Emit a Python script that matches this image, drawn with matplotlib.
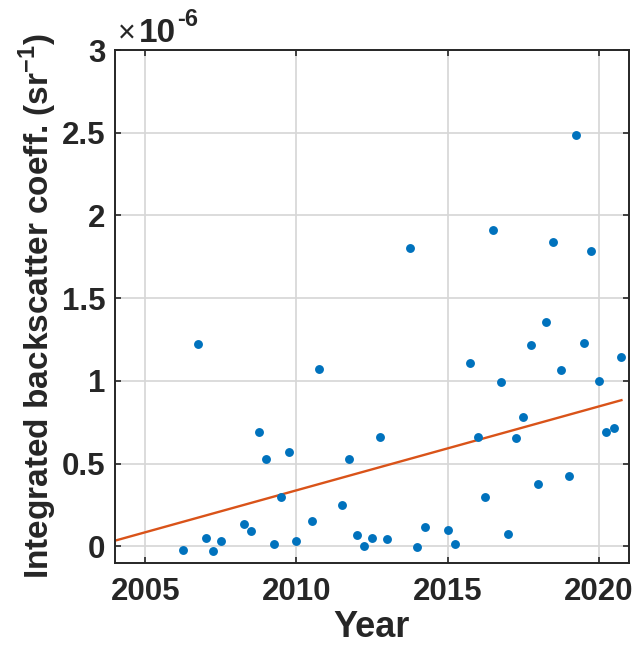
import matplotlib
matplotlib.use("Agg")
import matplotlib.pyplot as plt

# Data (backscatter in units of 1e-6 sr^-1)
years = [2006.25, 2006.75, 2007.0, 2007.25, 2007.5, 2008.25, 2008.5, 2008.75,
         2009.0, 2009.25, 2009.5, 2009.75, 2010.0, 2010.5, 2010.75, 2011.5,
         2011.75, 2012.0, 2012.25, 2012.5, 2012.75, 2013.0, 2013.75, 2014.0,
         2014.25, 2015.0, 2015.25, 2015.75, 2016.0, 2016.25, 2016.5, 2016.75,
         2017.0, 2017.25, 2017.5, 2017.75, 2018.0, 2018.25, 2018.5, 2018.75,
         2019.0, 2019.25, 2019.5, 2019.75, 2020.0, 2020.25, 2020.5, 2020.75]
backscatter_e6 = [-0.02, 1.222, 0.053, -0.026, 0.033, 0.138, 0.093, 0.694,
                  0.528, 0.016, 0.30, 0.573, 0.033, 0.152, 1.07, 0.249,
                  0.526, 0.071, 0.002, 0.053, 0.661, 0.047, 1.802, -0.002,
                  0.12, 0.097, 0.016, 1.109, 0.661, 0.30, 1.91, 0.995,
                  0.075, 0.654, 0.785, 1.22, 0.376, 1.359, 1.839, 1.066,
                  0.423, 2.488, 1.232, 1.788, 1.0, 0.692, 0.716, 1.145]
trend_x = [2004.0, 2020.75]
trend_y = [0.035, 0.884]

xticks = [2005, 2010, 2015, 2020]
yticks = [0, 0.5, 1, 1.5, 2, 2.5, 3]
ytick_labels = ["0", "0.5", "1", "1.5", "2", "2.5", "3"]

plt.rcParams['font.family'] = ['Liberation Sans', 'DejaVu Sans']
plt.rcParams['font.weight'] = 'bold'
plt.rcParams['mathtext.fontset'] = 'custom'
plt.rcParams['mathtext.bf'] = 'Liberation Sans:bold'
plt.rcParams['mathtext.rm'] = 'Liberation Sans:bold'

fig = plt.figure(figsize=(6.33, 6.45), dpi=100)
ax = fig.add_axes([115/633, 82/645, 514/633, 513/645])

ax.plot(years, backscatter_e6, 'o', color='#0072BD', markersize=6.4, markeredgewidth=0, zorder=3)
ax.plot(trend_x, trend_y, '-', color='#D95319', linewidth=1.7, zorder=2)

ax.set_xlim(2004, 2021)
ax.set_ylim(-0.1, 3)
ax.set_xticks(xticks)
ax.set_yticks(yticks)
ax.set_yticklabels(ytick_labels)
ax.grid(True, color='#d6d6d6', linewidth=1.2)
ax.set_axisbelow(True)
ax.tick_params(direction='in', length=4, width=1.2, colors='#262626',
               top=True, right=True, labelsize=22.5, pad=7)
ax.tick_params(axis='x', pad=10)
for lab in ax.get_xticklabels() + ax.get_yticklabels():
    lab.set_fontweight('bold')
for s in ax.spines.values():
    s.set_color('#262626')
    s.set_linewidth(1.4)

ax.set_xlabel('Year', fontsize=26, fontweight='bold', color='#262626', labelpad=2)
ax.set_ylabel('Integrated backscatter coeff. (sr$^{\\mathbf{-1}}$)', fontsize=24,
              fontweight='bold', color='#262626', labelpad=2)

fig.text(118/633, 1 - 34/645, '\u00d7', fontsize=22, fontweight='normal', color='#262626', va='center', ha='left')
fig.text(139/633, 1 - 34/645, '10', fontsize=24, fontweight='bold', color='#262626', va='center', ha='left')
fig.text(177/633, 1 - 20/645, '-6', fontsize=17, fontweight='bold', color='#262626', va='center', ha='left')

fig.savefig('out.png', dpi=100)
